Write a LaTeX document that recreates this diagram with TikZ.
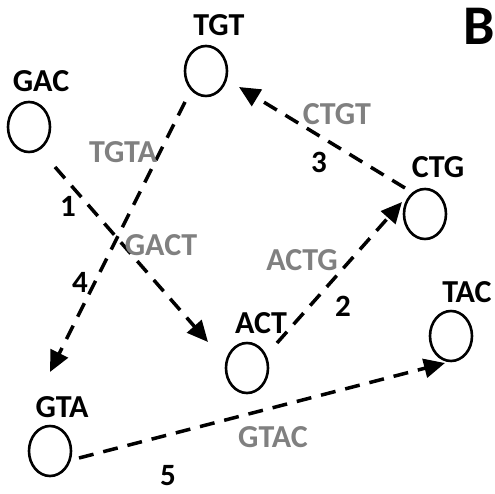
\documentclass[tikz,border=0pt]{standalone}
\usepackage{fontspec}
\setmainfont{Carlito}
\usetikzlibrary{shapes.geometric,arrows.meta}
\definecolor{lblgray}{RGB}{128,128,128}
\tikzset{
  vert/.style={ellipse,draw,line width=2.6pt,minimum width=42pt,minimum height=50pt,inner sep=0pt},
  vname/.style={font=\fontsize{32}{32}\bfseries\selectfont,text=black,inner sep=0pt,anchor=base},
  num/.style={font=\fontsize{31}{31}\bfseries\selectfont,text=black,inner sep=0pt,anchor=base},
  seq/.style={font=\fontsize{32}{32}\bfseries\selectfont,text=lblgray,inner sep=0pt,anchor=base},
  edge/.style={line width=3.5pt,dash pattern=on 15pt off 10pt,-{Triangle[length=21pt,width=19pt]}}
}
\begin{document}
\begin{tikzpicture}[x=1pt,y=-1pt]
\useasboundingbox (0,0) rectangle (495,494);
% vertices
\node[vert] (tgt) at (206,71) {};
\node[vert] (gac) at (29,127) {};
\node[vert] (ctg) at (425,214) {};
\node[vert] (act) at (247,368) {};
\node[vert] (tac) at (451,336) {};
\node[vert] (gta) at (50,451) {};
% vertex names
\node[vname] (ltgt) at (219,36) {TGT};
\node[vname] (lgac) at (41,92) {GAC};
\node[vname] (lctg) at (438,178) {CTG};
\node[vname] (lact) at (261,333) {ACT};
\node[vname] (ltac) at (467,302) {TAC};
\node[vname] (lgta) at (62,417) {GTA};
\node[font=\fontsize{56}{56}\bfseries\selectfont,inner sep=0pt,anchor=base] (panel) at (479,45) {B};
% edges
\draw[edge] ([shift={(26,40)}]gac.center) -- ([shift={(-39,-26)}]act.center);
\draw[edge] ([shift={(30,-25)}]act.center) -- ([shift={(-23,-12)}]ctg.center);
\draw[edge] ([shift={(-20,-26)}]ctg.center) -- ([shift={(33,16)}]tgt.center);
\draw[edge] ([shift={(-21,31)}]tgt.center) -- ([shift={(0,-79)}]gta.center);
\draw[edge] ([shift={(29,7)}]gta.center) -- ([shift={(-6,27)}]tac.center);
% edge labels
\node[num] (n1) at (68,217) {1};
\node[num] (n2) at (343,316) {2};
\node[num] (n3) at (319,173) {3};
\node[num] (n4) at (80,292) {4};
\node[num] (n5) at (168,485) {5};
\node[seq] (s1) at (161,255) {GACT};
\node[seq] (s2) at (302,271) {ACTG};
\node[seq] (s3) at (337,125) {CTGT};
\node[seq] (s4) at (123,163) {TGTA};
\node[seq] (s5) at (273,447) {GTAC};
\end{tikzpicture}
\end{document}
